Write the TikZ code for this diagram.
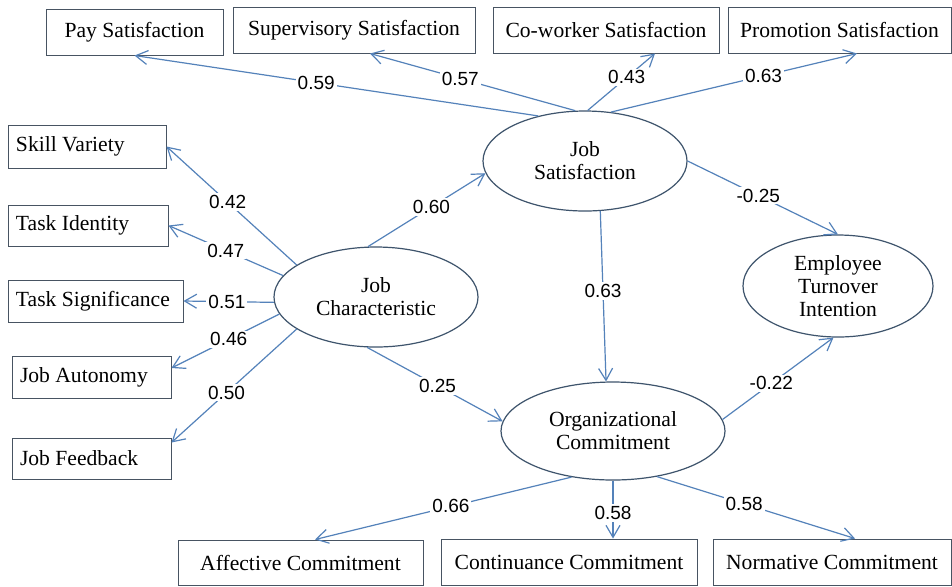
\documentclass[tikz,border=0pt]{standalone}
\usepackage{fontspec}
\setmainfont{Liberation Serif}
\newfontfamily\numfont{Liberation Sans}
\usetikzlibrary{shapes.geometric,arrows.meta}
\definecolor{linkblue}{RGB}{84,130,186}
\definecolor{rimgray}{RGB}{62,84,108}
\definecolor{boxgray}{RGB}{72,84,98}
\newcommand{\flushtext}[2]{\makebox[#1][l]{#2}}

\begin{document}
\begin{tikzpicture}[x=0.5pt,y=-0.5pt,
    font=\fontsize{10.8}{11.5}\selectfont,
    latent/.style={ellipse,draw=rimgray,line width=0.6pt,align=center,inner sep=0pt},
    item/.style={rectangle,draw=boxgray,line width=0.5pt,inner sep=0pt},
    leftitem/.style={item,inner xsep=4pt},
    load/.style={font=\numfont\fontsize{9.5}{10}\selectfont,fill=white,inner sep=1pt},
    link/.style={draw=linkblue,line width=0.6pt,-{Straight Barb[length=6pt,width=7pt]}}]
  \path[use as bounding box,fill=white] (0,0) rectangle (952,586);

  \node[item,minimum width=88.5pt,minimum height=23pt] (pay) at (134.5,32) {Pay Satisfaction};
  \node[item,minimum width=121pt,minimum height=23pt] (sup) at (354,30) {Supervisory Satisfaction};
  \node[item,minimum width=113pt,minimum height=23pt] (cow) at (606,30) {Co-worker Satisfaction};
  \node[item,minimum width=111.5pt,minimum height=23pt] (pro) at (839.5,30) {Promotion Satisfaction};

  \node[leftitem,minimum height=21.5pt] (skill) at (87,146.5) {\flushtext{71pt}{Skill Variety}};
  \node[leftitem,minimum height=20.5pt] (ident) at (88,225.5) {\flushtext{72pt}{Task Identity}};
  \node[leftitem,minimum height=21pt] (signif) at (95.5,301) {\flushtext{79.5pt}{Task Significance}};
  \node[leftitem,minimum height=21pt] (auton) at (91.5,377) {\flushtext{71.5pt}{Job Autonomy}};
  \node[leftitem,minimum height=20.5pt] (feed) at (91.5,458.5) {\flushtext{71.5pt}{Job Feedback}};

  \node[item,minimum width=122.5pt,minimum height=22.5pt] (aff) at (300.5,562.5) {Affective Commitment};
  \node[item,minimum width=128pt,minimum height=23pt] (cont) at (569,562) {Continuance Commitment};
  \node[item,minimum width=119pt,minimum height=23pt] (norm) at (832,562) {Normative Commitment};

  \node[latent,minimum width=102pt,minimum height=50pt] (js) at (585,161) {Job\\Satisfaction};
  \node[latent,minimum width=102pt,minimum height=50pt] (jc) at (376,297) {Job\\Characteristic};
  \node[latent,minimum width=112pt,minimum height=49pt] (oc) at (613,431) {Organizational\\Commitment};
  \node[latent,minimum width=95pt,minimum height=51pt] (eti) at (838,286) {Employee\\Turnover\\Intention};

  \draw[link] (js.136) to node[load,pos=0.55]{0.59} (pay.south);
  \draw[link] (js.101) to node[load,pos=0.56]{0.57} ([xshift=8pt]sup.south);
  \draw[link] (js.87) to node[load,pos=0.58]{0.43} ([xshift=24.5pt]cow.south);
  \draw[link] (js.62) to node[load,pos=0.62]{0.63} ([xshift=8.75pt]pro.south);
  \draw[link] (js.east) to node[load,pos=0.47]{-0.25} (eti.north);
  \draw[link] (js.287) to node[load,pos=0.47]{0.63} (oc.98);

  \draw[link] (jc.99) to node[load,pos=0.54]{0.60} (js.187);
  \draw[link] (jc.260) to node[load,pos=0.52]{0.25} (oc.175);
  \draw[link] (oc.6) to node[load,pos=0.44]{-0.22} (eti.265);

  \draw[link] (jc.158) to node[load,pos=0.53]{0.42} (skill.east);
  \draw[link] (jc.167) to node[load,pos=0.5]{0.47} (ident.east);
  \draw[link] (jc.183) to node[load,pos=0.52]{0.51} (signif.east);
  \draw[link] (jc.190) to node[load,pos=0.47]{0.46} ([yshift=4.5pt]auton.east);
  \draw[link] (jc.202) to node[load,pos=0.56]{0.50} ([yshift=8pt]feed.east);

  \draw[link] (oc.228) to node[load,pos=0.47]{0.66} ([xshift=7.25pt]aff.north);
  \draw[link] (oc.south) to node[load,pos=0.56]{0.58} ([xshift=22pt]cont.north);
  \draw[link] (oc.314) to node[load,pos=0.44]{0.58} ([xshift=11.5pt]norm.north);
\end{tikzpicture}
\end{document}
